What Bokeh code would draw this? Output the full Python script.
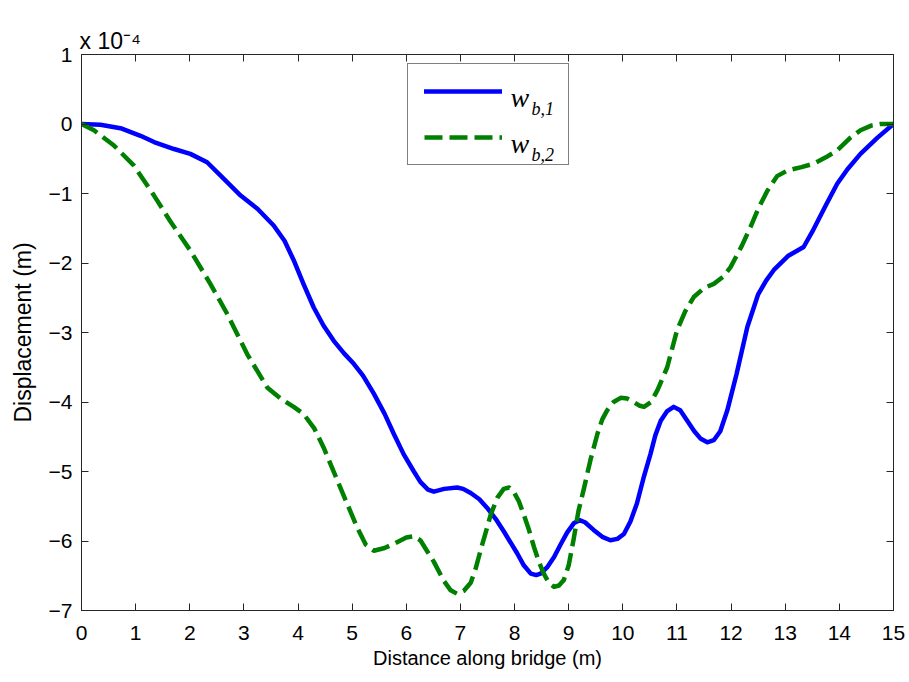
from bokeh.plotting import figure
from bokeh.models import (LinearAxis, Legend, LegendItem, Label, Range1d,
                          FixedTicker, ColumnDataSource)
from bokeh.embed import file_html
from bokeh.resources import INLINE

# Data (displacement in units of 1e-4 m)
x_b1 = [0, 0.35, 0.72, 1.09, 1.34, 1.71, 2.01, 2.32, 2.63, 2.94, 3.25, 3.55, 3.75,
        3.92, 4.1, 4.29, 4.47, 4.66, 4.85, 5.03, 5.2, 5.40, 5.6, 5.77, 5.95, 6.14,
        6.26, 6.4, 6.51, 6.7, 6.94, 7.05, 7.19, 7.35, 7.49, 7.65, 7.80, 8.05, 8.17,
        8.30, 8.40, 8.48, 8.60, 8.73, 8.85, 8.97, 9.1, 9.2, 9.3, 9.46, 9.62, 9.77,
        9.9, 10.02, 10.14, 10.26, 10.38, 10.51, 10.6, 10.70, 10.82, 10.94, 11.06,
        11.19, 11.32, 11.44, 11.56, 11.68, 11.8, 11.93, 12.1, 12.3, 12.5, 12.65,
        12.79, 13.05, 13.34, 13.5, 13.75, 13.96, 14.15, 14.39, 14.7, 15]
w_b1 = [0, -0.01, -0.06, -0.17, -0.26, -0.36, -0.43, -0.55, -0.79, -1.03, -1.22,
        -1.46, -1.68, -1.96, -2.3, -2.64, -2.9, -3.12, -3.30, -3.45, -3.62, -3.88,
        -4.17, -4.46, -4.75, -5.0, -5.15, -5.26, -5.29, -5.25, -5.23, -5.25, -5.31,
        -5.40, -5.52, -5.68, -5.86, -6.18, -6.35, -6.47, -6.49, -6.47, -6.38, -6.23,
        -6.05, -5.88, -5.74, -5.70, -5.73, -5.84, -5.94, -5.99, -5.97, -5.90, -5.72,
        -5.46, -5.1, -4.75, -4.48, -4.27, -4.13, -4.07, -4.12, -4.27, -4.42, -4.53,
        -4.58, -4.55, -4.42, -4.12, -3.6, -2.92, -2.45, -2.25, -2.1, -1.9, -1.77,
        -1.55, -1.17, -0.86, -0.65, -0.43, -0.2, 0]

x_b2 = [0, 0.23, 0.6, 0.97, 1.34, 1.64, 2.01, 2.38, 2.69, 3.06, 3.43, 3.68, 3.92,
        4.1, 4.3, 4.47, 4.78, 5.09, 5.25, 5.40, 5.6, 5.77, 6.0, 6.14, 6.26, 6.38,
        6.51, 6.69, 6.82, 6.94, 7.06, 7.19, 7.28, 7.37, 7.47, 7.56, 7.68, 7.80, 7.90,
        7.99, 8.08, 8.17, 8.27, 8.36, 8.45, 8.54, 8.64, 8.73, 8.82, 8.91, 9.0, 9.09,
        9.18, 9.28, 9.40, 9.53, 9.62, 9.71, 9.83, 9.96, 10.08, 10.20, 10.30, 10.39,
        10.52, 10.64, 10.82, 11.0, 11.15, 11.31, 11.5, 11.68, 11.85, 11.99, 12.2,
        12.36, 12.5, 12.67, 12.85, 13.04, 13.3, 13.53, 13.75, 13.96, 14.2, 14.39,
        14.6, 14.76, 15]
w_b2 = [0, -0.09, -0.31, -0.60, -1.03, -1.40, -1.82, -2.3, -2.73, -3.31, -3.79,
        -3.95, -4.07, -4.17, -4.38, -4.65, -5.23, -5.80, -6.05, -6.14, -6.1, -6.04,
        -5.95, -5.93, -5.99, -6.14, -6.30, -6.57, -6.71, -6.76, -6.72, -6.60, -6.40,
        -6.14, -5.87, -5.62, -5.38, -5.25, -5.23, -5.30, -5.43, -5.62, -5.85, -6.09,
        -6.30, -6.47, -6.61, -6.66, -6.64, -6.56, -6.35, -5.98, -5.57, -5.25, -4.84,
        -4.46, -4.25, -4.12, -4.00, -3.94, -3.95, -4.0, -4.05, -4.07, -4.0, -3.83,
        -3.50, -2.97, -2.70, -2.49, -2.36, -2.30, -2.2, -2.06, -1.75, -1.48, -1.22,
        -0.96, -0.75, -0.67, -0.62, -0.57, -0.48, -0.38, -0.2, -0.09, -0.02, 0, 0]

x_ticks = list(range(0, 16))
y_ticks = [1, 0, -1, -2, -3, -4, -5, -6, -7]
series_names = [("w", "b,1"), ("w", "b,2")]
exponent_text = "x 10\u207b\u2074"

FONT = "Liberation Sans"
AX_COLOR = "#262626"

p = figure(width=908, height=681, output_backend="svg", toolbar_location=None,
           x_range=Range1d(0, 15), y_range=Range1d(-7, 1),
           min_border_left=81, min_border_right=15, min_border_top=54,
           min_border_bottom=71)
p.xgrid.visible = False
p.ygrid.visible = False
p.outline_line_color = AX_COLOR
p.outline_line_width = 1
p.background_fill_color = "white"
p.border_fill_color = "white"

for ax in (p.xaxis[0], p.yaxis[0]):
    ax.major_tick_in = 7
    ax.major_tick_out = 0
    ax.minor_tick_in = 0
    ax.minor_tick_out = 0
    ax.axis_line_color = AX_COLOR
    ax.major_tick_line_color = AX_COLOR
    ax.major_label_text_font = FONT
    ax.major_label_text_font_size = "21px"
    ax.major_label_text_color = "black"
    ax.axis_label_text_font = FONT
    ax.axis_label_text_font_style = "normal"
    ax.axis_label_text_color = "black"

p.xaxis[0].axis_label_text_font_size = "20px"
p.yaxis[0].axis_label_text_font_size = "23px"
p.xaxis[0].ticker = FixedTicker(ticks=x_ticks)
p.yaxis[0].ticker = FixedTicker(ticks=y_ticks)
p.xaxis[0].axis_label = "Distance along bridge (m)"
p.yaxis[0].axis_label = "Displacement (m)"
p.xaxis[0].major_label_standoff = 15
p.yaxis[0].major_label_standoff = 9
p.xaxis[0].axis_label_standoff = 4
p.yaxis[0].axis_label_standoff = 10

# title used as the exponent marker
p.title.text = exponent_text
p.title.align = "left"
p.title.offset = -2
p.title.text_font = FONT
p.title.text_font_size = "23px"
p.title.text_font_style = "normal"
p.title.text_color = "black"
p.title.standoff = 2

# mirrored tick-only axes (top / right)
top = LinearAxis(ticker=FixedTicker(ticks=x_ticks), major_tick_in=7, major_tick_out=0,
                 minor_tick_in=0, minor_tick_out=0,
                 major_label_overrides={t: "" for t in x_ticks},
                 major_label_text_font_size="2px",
                 axis_line_color=AX_COLOR, major_tick_line_color=AX_COLOR,
                 major_label_standoff=0)
right = LinearAxis(ticker=FixedTicker(ticks=y_ticks), major_tick_in=7, major_tick_out=0,
                   minor_tick_in=0, minor_tick_out=0,
                   major_label_overrides={t: "" for t in y_ticks},
                   major_label_text_font_size="2px",
                   axis_line_color=AX_COLOR, major_tick_line_color=AX_COLOR,
                   major_label_standoff=0)
p.add_layout(top, "above")
p.add_layout(right, "right")

s1 = ColumnDataSource(dict(x=x_b1, y=w_b1))
s2 = ColumnDataSource(dict(x=x_b2, y=w_b2))
r1 = p.line("x", "y", source=s1, line_color="#0000FF", line_width=4.5,
            line_join="round", line_cap="round")
r2 = p.line("x", "y", source=s2, line_color="#008000", line_width=4.5,
            line_dash="18 7", line_join="round")

legend = Legend(items=[LegendItem(label=" ", renderers=[r1]),
                       LegendItem(label=" ", renderers=[r2])],
                location=(326, 445), orientation="vertical",
                glyph_width=78, glyph_height=22, label_height=22, label_width=45,
                label_standoff=5, spacing=24, padding=16, margin=0,
                border_line_color="black", border_line_width=1,
                background_fill_alpha=0.0,
                label_text_font=FONT, label_text_font_size="10px")
p.add_layout(legend, "center")

for (main, sub), yy in zip(series_names, (513, 467)):
    p.add_layout(Label(x=429, y=yy, x_units="screen", y_units="screen", text=main,
                       text_font="Liberation Serif", text_font_style="italic",
                       text_font_size="28px", text_baseline="alphabetic",
                       text_color="black"))
    p.add_layout(Label(x=450, y=yy - 11, x_units="screen", y_units="screen", text=sub,
                       text_font="Liberation Serif", text_font_style="italic",
                       text_font_size="18px", text_baseline="alphabetic",
                       text_color="black"))

open("out.html", "w").write(file_html(p, INLINE))
